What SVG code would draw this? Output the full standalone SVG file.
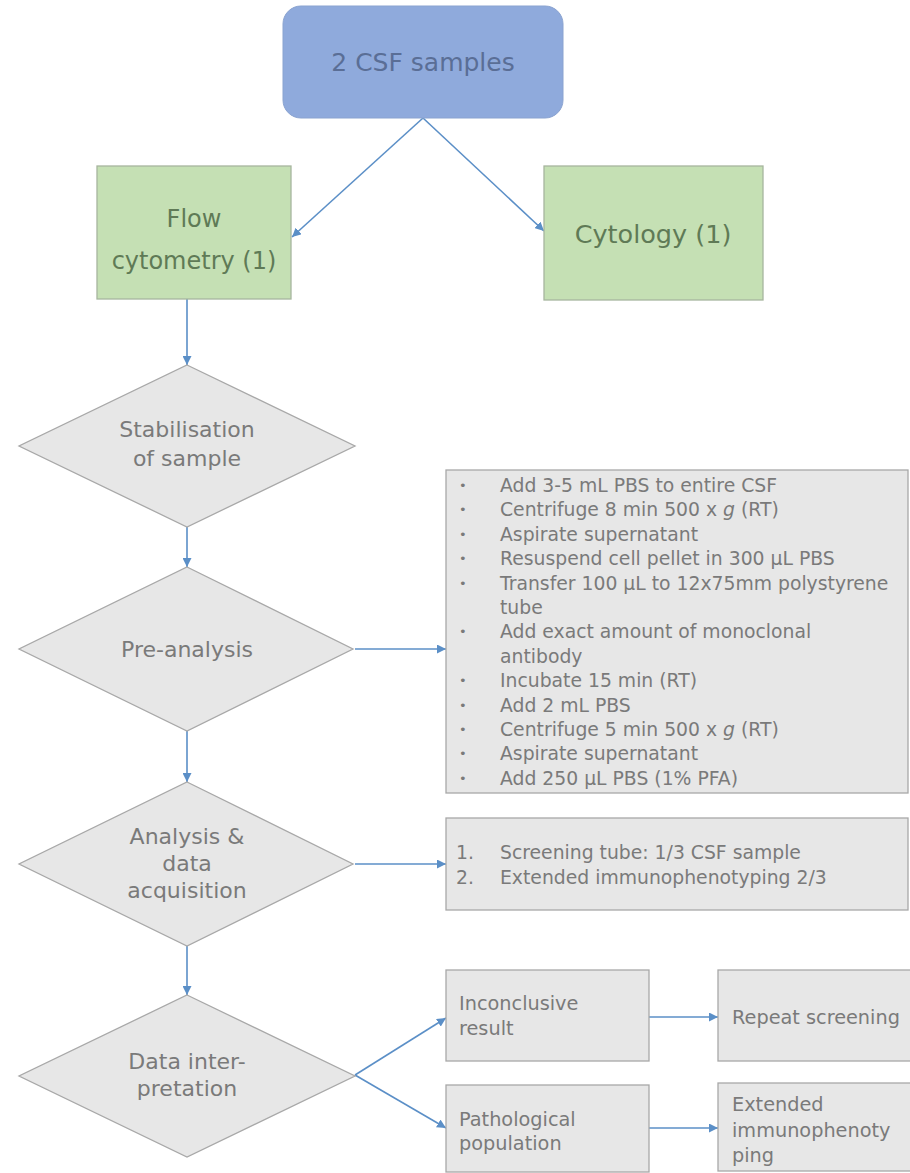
<svg xmlns="http://www.w3.org/2000/svg" width="910" height="1173" viewBox="0 0 910 1173">
<defs>
<marker id="ah" viewBox="0 0 10 10" refX="10" refY="5" markerWidth="9" markerHeight="9" markerUnits="userSpaceOnUse" orient="auto">
<path d="M0,0 L10,5 L0,10 z" fill="#5b8fc7"/>
</marker>
<style>
text{font-family:"DejaVu Sans","Liberation Sans",sans-serif}
.con{stroke:#5b8fc7;stroke-width:1.6;fill:none;marker-end:url(#ah)}
.gray{fill:#e7e7e7;stroke:#a8a8a8;stroke-width:1.3}
.green{fill:#c5e0b4;stroke:#a7b59e;stroke-width:1.3}
.blue{fill:#8faadc;stroke:#8aa3d0;stroke-width:1}
.tg{fill:#7a7a7a}
.tgr{fill:#5f7a56}
.tb{fill:#5a6e96}
.lst{font-size:18.8px;fill:#7a7a7a}
.bul{font-size:13px;fill:#7a7a7a}
.dia{font-size:22px;fill:#7a7a7a;text-anchor:middle}
.sm{font-size:19.3px;fill:#7a7a7a}
</style>
</defs>
<rect width="910" height="1173" fill="#ffffff"/>

<g id="connectors">
<line class="con" x1="423" y1="118" x2="292" y2="237"/>
<line class="con" x1="423" y1="118" x2="544" y2="231"/>
<line class="con" x1="187" y1="299" x2="187" y2="365"/>
<line class="con" x1="187" y1="527" x2="187" y2="567"/>
<line class="con" x1="187" y1="731" x2="187" y2="782"/>
<line class="con" x1="187" y1="946" x2="187" y2="995"/>
<line class="con" x1="355" y1="649" x2="446" y2="649"/>
<line class="con" x1="355" y1="864" x2="446" y2="864"/>
<line class="con" x1="355" y1="1075" x2="446" y2="1018"/>
<line class="con" x1="355" y1="1075" x2="446" y2="1128"/>
<line class="con" x1="649" y1="1017" x2="718" y2="1017"/>
<line class="con" x1="649" y1="1128" x2="718" y2="1128"/>
</g>

<g id="csf">
<rect class="blue" x="283" y="6" width="280" height="112" rx="18"/>
<text class="tb" x="423" y="71" font-size="25" text-anchor="middle">2 CSF samples</text>
</g>

<g id="flow">
<rect class="green" x="97" y="166" width="194" height="133"/>
<text class="tgr" x="194" y="227" font-size="24" text-anchor="middle">Flow</text>
<text class="tgr" x="194" y="269" font-size="24" text-anchor="middle">cytometry (1)</text>
</g>

<g id="cytology">
<rect class="green" x="544" y="166" width="219" height="134"/>
<text class="tgr" x="653" y="243" font-size="25.5" text-anchor="middle">Cytology (1)</text>
</g>

<g id="stabilisation">
<polygon class="gray" points="187,365 355,446 187,527 19,446"/>
<text class="dia" x="187" y="437">Stabilisation</text>
<text class="dia" x="187" y="466">of sample</text>
</g>

<g id="preanalysis">
<polygon class="gray" points="187,567 353,649 187,731 19,649"/>
<text class="dia" x="187" y="657">Pre-analysis</text>
</g>

<g id="preanalysis-steps">
<rect class="gray" x="446" y="470" width="462" height="323"/>
<g class="bul">
<text x="459" y="490">•</text>
<text x="459" y="514.4">•</text>
<text x="459" y="538.8">•</text>
<text x="459" y="563.2">•</text>
<text x="459" y="587.6">•</text>
<text x="459" y="636.4">•</text>
<text x="459" y="685.2">•</text>
<text x="459" y="709.6">•</text>
<text x="459" y="734">•</text>
<text x="459" y="758.4">•</text>
<text x="459" y="782.8">•</text>
</g>
<g class="lst">
<text x="500" y="492">Add 3-5 mL PBS to entire CSF</text>
<text x="500" y="516.4">Centrifuge 8 min 500 x <tspan font-style="italic">g</tspan> (RT)</text>
<text x="500" y="540.8">Aspirate supernatant</text>
<text x="500" y="565.2">Resuspend cell pellet in 300 µL PBS</text>
<text x="500" y="589.6">Transfer 100 µL to 12x75mm polystyrene</text>
<text x="500" y="614">tube</text>
<text x="500" y="638.4">Add exact amount of monoclonal</text>
<text x="500" y="662.8">antibody</text>
<text x="500" y="687.2">Incubate 15 min (RT)</text>
<text x="500" y="711.6">Add 2 mL PBS</text>
<text x="500" y="736">Centrifuge 5 min 500 x <tspan font-style="italic">g</tspan> (RT)</text>
<text x="500" y="760.4">Aspirate supernatant</text>
<text x="500" y="784.8">Add 250 µL PBS (1% PFA)</text>
</g>
</g>

<g id="analysis">
<polygon class="gray" points="187,782 353,864 187,946 19,864"/>
<text class="dia" x="187" y="844">Analysis &amp;</text>
<text class="dia" x="187" y="871">data</text>
<text class="dia" x="187" y="898">acquisition</text>
</g>

<g id="analysis-steps">
<rect class="gray" x="446" y="818" width="462" height="92"/>
<text class="lst" x="456" y="859">1.</text>
<text class="lst" x="500" y="859">Screening tube: 1/3 CSF sample</text>
<text class="lst" x="456" y="884">2.</text>
<text class="lst" x="500" y="884">Extended immunophenotyping 2/3</text>
</g>

<g id="interpretation">
<polygon class="gray" points="187,995 355,1076 187,1157 19,1076"/>
<text class="dia" x="187" y="1069">Data inter-</text>
<text class="dia" x="187" y="1096">pretation</text>
</g>

<g id="inconclusive">
<rect class="gray" x="446" y="970" width="203" height="91"/>
<text class="sm" x="459" y="1010">Inconclusive</text>
<text class="sm" x="459" y="1035">result</text>
</g>

<g id="pathological">
<rect class="gray" x="446" y="1085" width="203" height="87"/>
<text class="sm" x="459" y="1126">Pathological</text>
<text class="sm" x="459" y="1150">population</text>
</g>

<g id="repeat">
<rect class="gray" x="718" y="970" width="200" height="91"/>
<text class="sm" x="732" y="1024">Repeat screening</text>
</g>

<g id="extended">
<rect class="gray" x="718" y="1083" width="200" height="88"/>
<text class="sm" x="732" y="1111">Extended</text>
<text class="sm" x="732" y="1137">immunophenoty</text>
<text class="sm" x="732" y="1162">ping</text>
</g>
</svg>
